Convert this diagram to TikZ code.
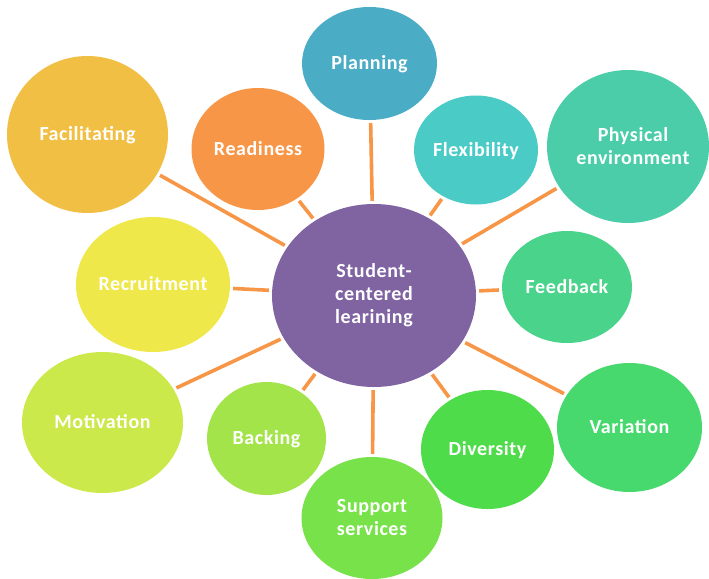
\documentclass[tikz,border=0pt]{standalone}
\usepackage{fontspec}
\setmainfont{Carlito}
\newfontfamily\bubfont[LetterSpace=3]{Carlito}
\usetikzlibrary{shapes.geometric}
\definecolor{cCenter}{HTML}{8064A2}
\definecolor{cSpoke}{HTML}{F79646}
\definecolor{cPlan}{HTML}{4BACC6}
\definecolor{cFlex}{HTML}{4BCBC6}
\definecolor{cPhys}{HTML}{4ACDA8}
\definecolor{cFeed}{HTML}{4AD38B}
\definecolor{cVar}{HTML}{48D96E}
\definecolor{cDiv}{HTML}{4FDC4B}
\definecolor{cSupp}{HTML}{78E24B}
\definecolor{cBack}{HTML}{A3E44B}
\definecolor{cMot}{HTML}{CBE94A}
\definecolor{cRecr}{HTML}{EFE84A}
\definecolor{cFac}{HTML}{F2BF45}
\definecolor{cRead}{HTML}{F79646}
\tikzset{
  bub/.style args={#1/#2/#3}{ellipse, fill=#1, minimum width=#2pt, minimum height=#3pt,
    inner sep=0pt, text=white, align=center,
    font=\bubfont\fontsize{20}{23}\selectfont\bfseries},
  one/.style={text height=12.9pt, text depth=0pt},
  spoke/.style={draw=cSpoke, line width=3.6pt, shorten <=3pt, shorten >=3pt}
}
\begin{document}
\begin{tikzpicture}[x=1pt,y=-1pt]
\useasboundingbox (0,0) rectangle (709,578);
\begin{scope}
\clip (0,0) rectangle (709,578);
\node[bub=cCenter/204/183, inner sep=-20pt] (c) at (374,295.5) {Student-\\centered\\learining};
\node[bub=cPlan/135/113, one] (plan) at (369.5,63.5) {Planning};
\node[bub=cFlex/124/109, one] (flex) at (476,150) {Flexibility};
\node[bub=cPhys/162/153, inner sep=-30pt] (phys) at (628,146.5) {\hspace*{10pt}Physical\\\hspace*{10pt}environment};
\node[bub=cFeed/130/112, one] (feed) at (567,287) {Feedback};
\node[bub=cVar/145/129, one] (var) at (629.5,427.5) {Variation};
\node[bub=cDiv/133/119, one] (div) at (487.5,449.5) {Diversity};
\node[bub=cSupp/141/122, inner sep=-20pt] (supp) at (372,518) {Support\\services};
\node[bub=cBack/119/113, one] (back) at (266.5,438.5) {Backing};
\node[bub=cMot/161/141, one] (mot) at (102.5,422.5) {Motivation};
\node[bub=cRecr/152/135, one] (recr) at (153,284.5) {Recruitment};
\node[bub=cFac/161/157, one] (fac) at (87.5,134.5) {Facilitating};
\node[bub=cRead/133/122, one] (read) at (258,149) {Readiness};
\foreach \n in {plan,flex,phys,feed,var,div,supp,back,mot,recr,fac,read}
  \draw[spoke] (c) -- (\n);
\end{scope}
\end{tikzpicture}
\end{document}
